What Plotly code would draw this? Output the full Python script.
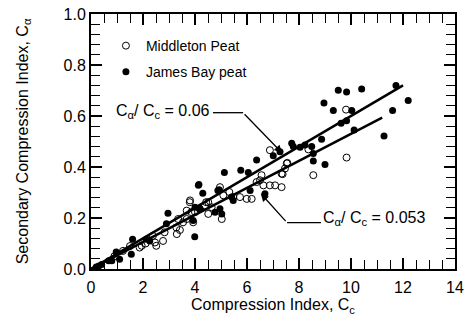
import plotly.graph_objects as go

# Middleton Peat (open circles)
mid_cc = [0.9, 1.23, 1.5, 1.87, 1.95, 2.1, 2.38, 2.46, 2.51, 2.77, 2.83, 3.28, 3.3, 3.35, 3.42,
          3.54, 3.68, 3.68, 3.8, 3.81, 3.86, 3.93, 4.0, 4.18, 4.38, 4.43, 4.51, 4.51, 4.64, 4.96,
          5.03, 5.09, 5.32, 5.47, 5.73, 5.99, 6.18, 6.37, 6.5, 6.56, 6.63, 6.88, 6.88, 7.08, 7.33,
          7.33, 7.37, 7.46, 7.53, 7.55, 8.36, 8.55, 9.81, 9.83]
mid_ca = [0.05, 0.071, 0.09, 0.084, 0.091, 0.1, 0.13, 0.104, 0.091, 0.11, 0.144, 0.163, 0.137, 0.196, 0.153,
          0.183, 0.229, 0.196, 0.262, 0.269, 0.223, 0.183, 0.223, 0.236, 0.249, 0.262, 0.262, 0.216, 0.242, 0.321,
          0.196, 0.289, 0.302, 0.282, 0.282, 0.275, 0.275, 0.341, 0.348, 0.368, 0.328, 0.466, 0.328, 0.328, 0.374,
          0.321, 0.372, 0.394, 0.414, 0.416, 0.469, 0.368, 0.625, 0.437]

# James Bay peat (filled circles)
jb_cc = [0.2, 0.3, 0.41, 0.68, 0.8, 0.97, 1.1, 1.55, 1.6, 2.13, 2.26, 2.9, 2.96, 3.93, 3.99, 4.0,
         4.13, 4.15, 4.19, 4.3, 4.77, 4.88, 4.93, 4.96, 5.03, 5.13, 5.41, 5.47, 5.76, 6.05, 6.12,
         6.37, 6.69, 7.01, 7.27, 7.72, 7.78, 8.04, 8.23, 8.49, 8.55, 8.55, 8.87, 8.96, 9.0, 9.32,
         9.51, 9.62, 9.83, 9.83, 10.03, 10.12, 10.41, 11.27, 11.6, 11.73, 12.2]
jb_ca = [0.008, 0.012, 0.018, 0.032, 0.032, 0.067, 0.038, 0.058, 0.117, 0.117, 0.11, 0.177, 0.219, 0.19, 0.126, 0.242,
         0.328, 0.331, 0.236, 0.297, 0.223, 0.308, 0.311, 0.236, 0.216, 0.378, 0.282, 0.269, 0.387, 0.378, 0.308,
         0.427, 0.295, 0.444, 0.46, 0.493, 0.48, 0.477, 0.486, 0.48, 0.453, 0.424, 0.509, 0.651, 0.41, 0.622,
         0.701, 0.572, 0.694, 0.581, 0.622, 0.545, 0.706, 0.522, 0.622, 0.72, 0.661]

# Fit lines: slope and end of line
slopes = [0.06, 0.053]
line_end = [12.0, 11.2]

FONT = "Arial, Liberation Sans, sans-serif"

fig = go.Figure()
fig.add_trace(go.Scatter(x=mid_cc, y=mid_ca, mode="markers", name="Middleton Peat",
                         legendgroup="a",
                         marker=dict(symbol="circle-open", size=7, color="black", line=dict(width=1))))
fig.add_trace(go.Scatter(x=jb_cc, y=jb_ca, mode="markers", name="James Bay peat",
                         legendgroup="b",
                         marker=dict(symbol="circle", size=7, color="black")))
for s, e in zip(slopes, line_end):
    fig.add_trace(go.Scatter(x=[0, e], y=[0, s * e], mode="lines", showlegend=False,
                             line=dict(color="black", width=2.5)))

# Leader lines and labels
fig.add_shape(type="line", x0=4.69, y0=0.613, x1=5.85, y1=0.613, line=dict(color="black", width=1.3))
fig.add_annotation(x=7.35, y=0.455, ax=5.85, ay=0.613, axref="x", ayref="y", text="",
                   showarrow=True, arrowhead=2, arrowsize=1.2, arrowwidth=1.3, arrowcolor="black")
fig.add_annotation(x=4.67, y=0.617, text="C<sub>α</sub>/ C<sub>c</sub> = 0.06", showarrow=False,
                   xanchor="right", yanchor="middle", font=dict(family=FONT, size=16, color="black"))

fig.add_shape(type="line", x0=7.54, y0=0.182, x1=8.85, y1=0.182, line=dict(color="black", width=1.3))
fig.add_annotation(x=6.53, y=0.296, ax=7.54, ay=0.182, axref="x", ayref="y", text="",
                   showarrow=True, arrowhead=2, arrowsize=1.2, arrowwidth=1.3, arrowcolor="black")
fig.add_annotation(x=8.86, y=0.198, text="C<sub>α</sub>/ C<sub>c</sub> = 0.053", showarrow=False,
                   xanchor="left", yanchor="middle", font=dict(family=FONT, size=16, color="black"))

axis_common = dict(showline=True, linewidth=2, linecolor="black", mirror="ticks", ticks="inside",
                   tickcolor="black", tickwidth=1.5, ticklen=11, showgrid=False, zeroline=False,
                   tickfont=dict(family=FONT, size=16, color="black"))

fig.update_xaxes(range=[0, 14], dtick=2, tick0=0, ticklabelstandoff=3,
                 minor=dict(dtick=0.5, ticks="inside", ticklen=9, tickcolor="black", tickwidth=1.2, showgrid=False),
                 title=dict(text="Compression Index, C<sub>c</sub>", font=dict(family=FONT, size=16, color="black"),
                            standoff=4),
                 **axis_common)
fig.update_yaxes(range=[0, 1.0], dtick=0.2, tick0=0, tickformat=".1f",
                 minor=dict(dtick=0.04, ticks="inside", ticklen=9, tickcolor="black", tickwidth=1.2, showgrid=False),
                 title=dict(text="Secondary Compression Index, C<sub>α</sub>",
                            font=dict(family=FONT, size=16, color="black"), standoff=31),
                 **axis_common)

fig.update_layout(
    width=466, height=330,
    margin=dict(l=91, r=11, t=14, b=61, autoexpand=False),
    paper_bgcolor="white", plot_bgcolor="white",
    font=dict(family=FONT, color="black"),
    legend=dict(x=0.041, y=0.937, xanchor="left", yanchor="top", bgcolor="rgba(0,0,0,0)",
                font=dict(family=FONT, size=14, color="black"), tracegroupgap=5,
                traceorder="grouped", itemsizing="trace"),
)

fig.write_html("out.html")
